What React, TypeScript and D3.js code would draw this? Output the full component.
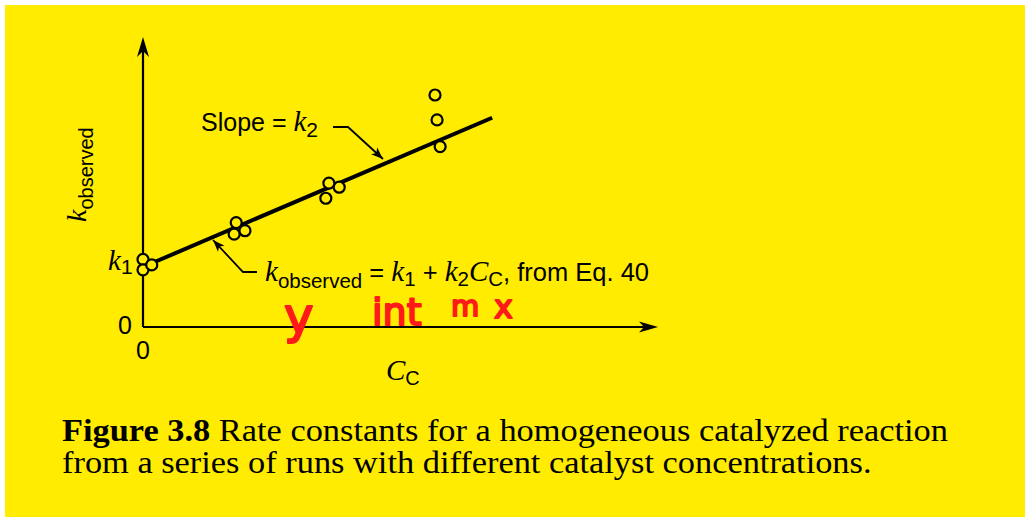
import React from "react";
import * as d3 from "d3";

// Catalyst concentration (arbitrary units) for each run and its observed rate constant
const catalystConc = [0.0, 0.0, 0.17, 1.77, 1.81, 1.98, 3.55, 3.61, 3.81, 5.67, 5.71, 5.77];
const kObserved = [2.33, 1.97, 2.14, 3.2, 3.6, 3.32, 4.44, 4.96, 4.82, 8.0, 7.14, 6.22];

// Fitted line k_observed = k1 + k2 * C_C
const k1 = 2.07;
const k2 = 0.759;
const fitRange = [0.1, 6.78];

// Axis extents and tick labels
const xDomain = [0, 10];
const yDomain = [0, 10];
const xTickLabels = ["0"];
const yTickLabels = ["0"];

const W = 1025;
const H = 517;
const YELLOW = "#FFEC00";
const SANS = "'Liberation Sans', Arial, Helvetica, sans-serif";
const SERIF = "'Liberation Serif', 'Times New Roman', serif";
const HAND = "'DejaVu Sans', sans-serif";

function arrowHead(tipX: number, tipY: number, angleDeg: number, len: number, half: number, notch: number) {
  // notched arrowhead pointing along angleDeg with its tip at (tipX, tipY)
  const a = (angleDeg * Math.PI) / 180;
  const ux = Math.cos(a), uy = Math.sin(a);
  const px = -uy, py = ux;
  const bx = tipX - ux * len, by = tipY - uy * len;
  const nx = tipX - ux * (len - notch), ny = tipY - uy * (len - notch);
  return `M${tipX},${tipY}L${bx + px * half},${by + py * half}L${nx},${ny}L${bx - px * half},${by - py * half}Z`;
}

export default function App() {
  const x = d3.scaleLinear().domain(xDomain).range([143, 658]);
  const y = d3.scaleLinear().domain(yDomain).range([327, 37]);

  const fit = d3
    .line<number>()
    .x((c) => x(c))
    .y((c) => y(k1 + k2 * c))(fitRange);

  const points = catalystConc.map((c, i) => ({ c, k: kObserved[i] }));

  // leader for the slope label
  const slopeLeader = "M333,127L348,127L383,159";
  const slopeAng = (Math.atan2(159 - 127, 383 - 348) * 180) / Math.PI;
  // leader for the equation label
  const eqLeader = "M257,272L243,272L213,240";
  const eqAng = (Math.atan2(240 - 272, 213 - 243) * 180) / Math.PI;

  return (
    <svg
      width={W}
      height={H}
      style={{ position: "absolute", left: 0, top: 0, display: "block" }}
      xmlns="http://www.w3.org/2000/svg"
    >
      <rect x={0} y={0} width={W} height={H} fill="#ffffff" />
      <rect x={5} y={5} width={W - 5} height={H - 5} fill={YELLOW} />

      {/* axes */}
      <line x1={x(0)} y1={y(0)} x2={x(0)} y2={y(yDomain[1]) + 14} stroke="#000" strokeWidth={2.2} />
      <path d={arrowHead(x(0), y(yDomain[1]), -90, 20, 6, 6)} fill="#000" />
      <line x1={x(0)} y1={y(0)} x2={x(xDomain[1]) - 12} y2={y(0)} stroke="#000" strokeWidth={2.2} />
      <path d={arrowHead(x(xDomain[1]), y(0), 0, 19, 5.5, 5)} fill="#000" />

      {/* tick labels at the origin */}
      {yTickLabels.map((t) => (
        <text key={"y" + t} x={125} y={y(0) + 7} fontFamily={SANS} fontSize={25} textAnchor="middle">
          {t}
        </text>
      ))}
      {xTickLabels.map((t) => (
        <text key={"x" + t} x={x(0)} y={359} fontFamily={SANS} fontSize={25} textAnchor="middle">
          {t}
        </text>
      ))}

      {/* k1 intercept label */}
      <text x={108} y={270} fontSize={29}>
        <tspan fontFamily={SERIF} fontStyle="italic">k</tspan>
        <tspan fontFamily={SANS} fontSize={21} dy={4}>1</tspan>
      </text>

      {/* axis titles */}
      <text transform="translate(86,222) rotate(-90)" fontSize={28}>
        <tspan fontFamily={SERIF} fontStyle="italic">k</tspan>
        <tspan fontFamily={SANS} fontSize={20} dy={7}>observed</tspan>
      </text>
      <text x={386} y={380} fontSize={29}>
        <tspan fontFamily={SERIF} fontStyle="italic">C</tspan>
        <tspan fontFamily={SANS} fontSize={20} dy={5}>C</tspan>
      </text>

      {/* fitted line */}
      <path d={fit ?? ""} fill="none" stroke="#000" strokeWidth={4} />

      {/* observations */}
      {points.map((p, i) => (
        <circle key={i} cx={x(p.c)} cy={y(p.k)} r={5.5} fill={YELLOW} stroke="#000" strokeWidth={2.2} />
      ))}

      {/* slope annotation */}
      <text x={201} y={131} fontSize={25}>
        <tspan fontFamily={SANS}>Slope = </tspan>
        <tspan fontFamily={SERIF} fontStyle="italic" fontSize={29}>k</tspan>
        <tspan fontFamily={SANS} fontSize={21} dy={6}>2</tspan>
      </text>
      <path d={slopeLeader} fill="none" stroke="#000" strokeWidth={1.8} />
      <path d={arrowHead(383, 159, slopeAng, 12, 4.5, 3)} fill="#000" />

      {/* equation annotation */}
      <path d={eqLeader} fill="none" stroke="#000" strokeWidth={1.8} />
      <path d={arrowHead(213, 240, eqAng, 12, 4.5, 3)} fill="#000" />
      <text x={265} y={281} fontSize={25.5}>
        <tspan fontFamily={SERIF} fontStyle="italic" fontSize={29}>k</tspan>
        <tspan fontFamily={SANS} fontSize={20.5} dy={7}>observed</tspan>
        <tspan fontFamily={SANS} dy={-7}> = </tspan>
        <tspan fontFamily={SERIF} fontStyle="italic" fontSize={29}>k</tspan>
        <tspan fontFamily={SANS} fontSize={20.5} dy={5}>1</tspan>
        <tspan fontFamily={SANS} dy={-5}> + </tspan>
        <tspan fontFamily={SERIF} fontStyle="italic" fontSize={29}>k</tspan>
        <tspan fontFamily={SANS} fontSize={20.5} dy={5}>2</tspan>
        <tspan fontFamily={SERIF} fontStyle="italic" fontSize={29} dy={-5}>C</tspan>
        <tspan fontFamily={SANS} fontSize={20.5} dy={5}>C</tspan>
        <tspan fontFamily={SANS} dy={-5}>, from Eq. 40</tspan>
      </text>

      {/* handwritten notes */}
      <g fill="#ff1a1a" stroke="#ff1a1a" strokeWidth={2} strokeLinejoin="round" fontFamily={HAND}>
        <text x={284} y={333} fontSize={50}>y</text>
        <text x={372} y={325} fontSize={38}>int</text>
        <text x={451} y={316} fontSize={29}>m</text>
        <text x={494} y={318} fontSize={32}>x</text>
      </g>

      {/* caption, set slightly wide like the printed figure */}
      <g transform="translate(62,0) scale(1.109,1)">
        <text x={0} y={441} fontFamily={SERIF} fontSize={31}>
          <tspan fontWeight="bold">Figure 3.8</tspan>
          <tspan>  Rate constants for a homogeneous catalyzed reaction</tspan>
        </text>
        <text x={0} y={473} fontFamily={SERIF} fontSize={31}>
          from a series of runs with different catalyst concentrations.
        </text>
      </g>
    </svg>
  );
}
